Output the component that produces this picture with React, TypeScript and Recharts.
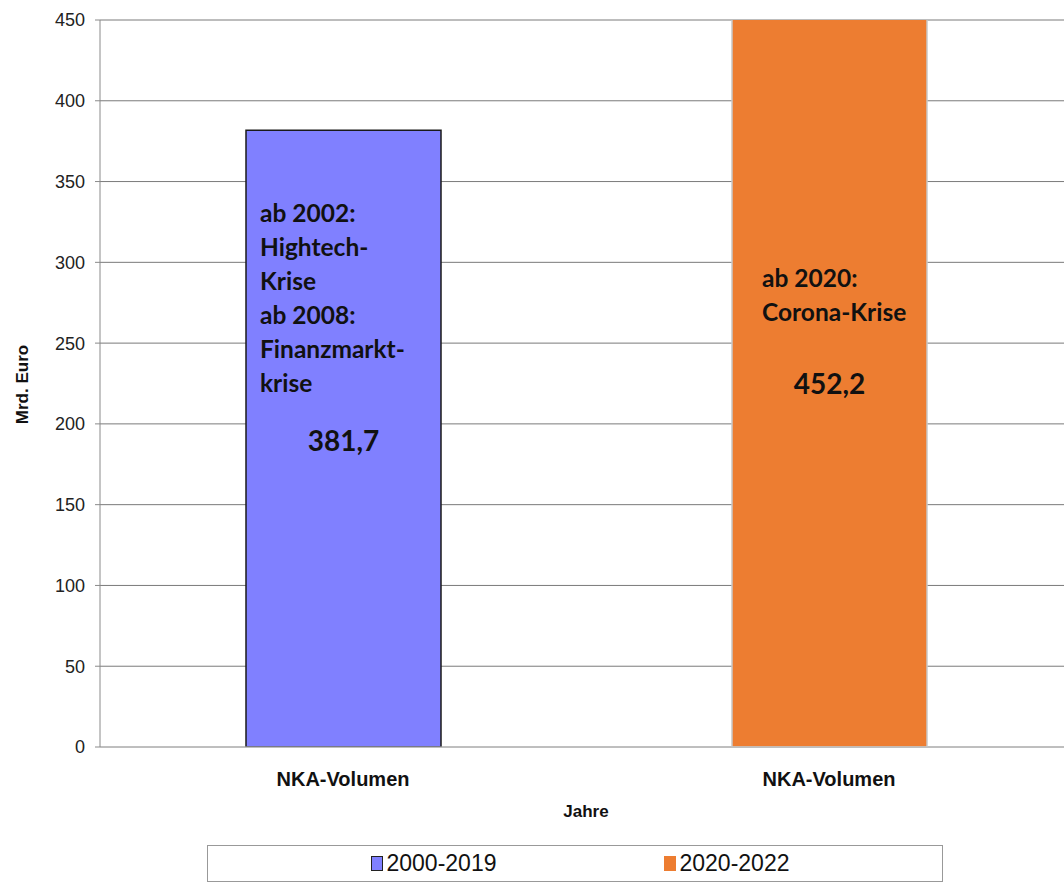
import { BarChart, Bar, Cell, XAxis, YAxis, CartesianGrid, Legend, LabelList } from 'recharts'

const categories = ['NKA-Volumen', 'NKA-Volumen']
const periods = ['2000-2019', '2020-2022']
const volumes = [381.7, 452.2]
const notes = [
  ['ab 2002:', 'Hightech-', 'Krise', 'ab 2008:', 'Finanzmarkt-', 'krise'],
  ['ab 2020:', 'Corona-Krise'],
]
const yTicks = [0, 50, 100, 150, 200, 250, 300, 350, 400, 450]

const fills = ['#8080FF', '#ED7D31']
const strokes = ['#1a1a1a', '#c8c8c8']
// note placement inside each bar (left inset, gap above the value)
const noteInset = [14, 30]
const noteGap = [58, 72]
const lineHeight = 34

const data = categories.map((name, i) => ({ name, value: volumes[i], period: periods[i] }))

const sans = '"Liberation Sans", Arial, sans-serif'
const calib = 'Lato, "Noto Sans", sans-serif'

function BarText(props: any) {
  const { x, y, width, height, index, value } = props
  const cx = x + width / 2
  const cy = y + height / 2 + 1.5
  const lines = notes[index] || []
  const lastY = cy - noteGap[index]
  return (
    <g>
      {lines.map((line, k) => (
        <text
          key={k}
          x={x + noteInset[index]}
          y={lastY - (lines.length - 1 - k) * lineHeight}
          dominantBaseline="central"
          fontFamily={calib}
          fontWeight="bold"
          fontSize={24.5}
          fill="#111"
        >
          {line}
        </text>
      ))}
      <text
        x={cx}
        y={cy}
        textAnchor="middle"
        dominantBaseline="central"
        fontFamily={calib}
        fontWeight="bold"
        fontSize={28}
        fill="#111"
      >
        {Number(value).toFixed(1).replace('.', ',')}
      </text>
    </g>
  )
}

function LegendBox() {
  return (
    <div
      style={{
        boxSizing: 'border-box',
        height: 37,
        width: 736,
        border: '1px solid #999',
        background: '#fff',
        display: 'flex',
        alignItems: 'center',
        justifyContent: 'center',
        gap: 167,
        paddingLeft: 10,
        fontFamily: sans,
        fontSize: 23,
        color: '#111',
      }}
    >
      {periods.map((p, i) => (
        <div key={p} style={{ display: 'flex', alignItems: 'center', gap: 4 }}>
          <span
            style={{
              display: 'inline-block',
              boxSizing: 'border-box',
              width: 12,
              height: 15,
              background: fills[i],
              border: i === 0 ? '1px solid #222' : 'none',
            }}
          />
          <span>{p}</span>
        </div>
      ))}
    </div>
  )
}

export default function App() {
  return (
    <div style={{ position: 'absolute', left: 0, top: 0, width: 1064, height: 882, overflow: 'hidden', background: '#fff' }}>
      <BarChart width={1090} height={882} data={data} margin={{ top: 20, right: 18, left: 0, bottom: 0 }}>
        <CartesianGrid vertical={false} stroke="#7a7a7a" />
        <XAxis
          dataKey="name"
          height={98}
          stroke="#c0c0c0"
          tickLine={false}
          tickMargin={19}
          tick={{ fontFamily: sans, fontWeight: 'bold', fontSize: 20, fill: '#111' }}
          label={{
            value: 'Jahre',
            position: 'insideTop',
            offset: 58,
            fontFamily: sans,
            fontWeight: 'bold',
            fontSize: 17,
            fill: '#111',
          }}
        />
        <YAxis
          width={100}
          domain={[0, 450]}
          ticks={yTicks}
          allowDataOverflow
          stroke="#8a8a8a"
          tickSize={5}
          tickMargin={10}
          tick={{ fontFamily: sans, fontSize: 18, fill: '#222' }}
          label={{
            content: (p: any) => {
              const vb = p.viewBox
              const lx = vb.x + 22
              const ly = vb.y + vb.height / 2 + 1
              return (
                <text
                  x={lx}
                  y={ly}
                  transform={`rotate(-90 ${lx} ${ly})`}
                  textAnchor="middle"
                  dominantBaseline="central"
                  fontFamily={sans}
                  fontWeight="bold"
                  fontSize={17}
                  fill="#111"
                >
                  Mrd. Euro
                </text>
              )
            },
          }}
        />
        <Legend
          verticalAlign="bottom"
          content={<LegendBox />}
          wrapperStyle={{ left: 207, width: 736, bottom: 0 }}
        />
        <Bar dataKey="value" barSize={195} isAnimationActive={false}>
          {data.map((d, i) => (
            <Cell key={i} fill={fills[i]} stroke={strokes[i]} strokeWidth={1.5} />
          ))}
          <LabelList dataKey="value" content={<BarText />} />
        </Bar>
      </BarChart>
    </div>
  )
}
